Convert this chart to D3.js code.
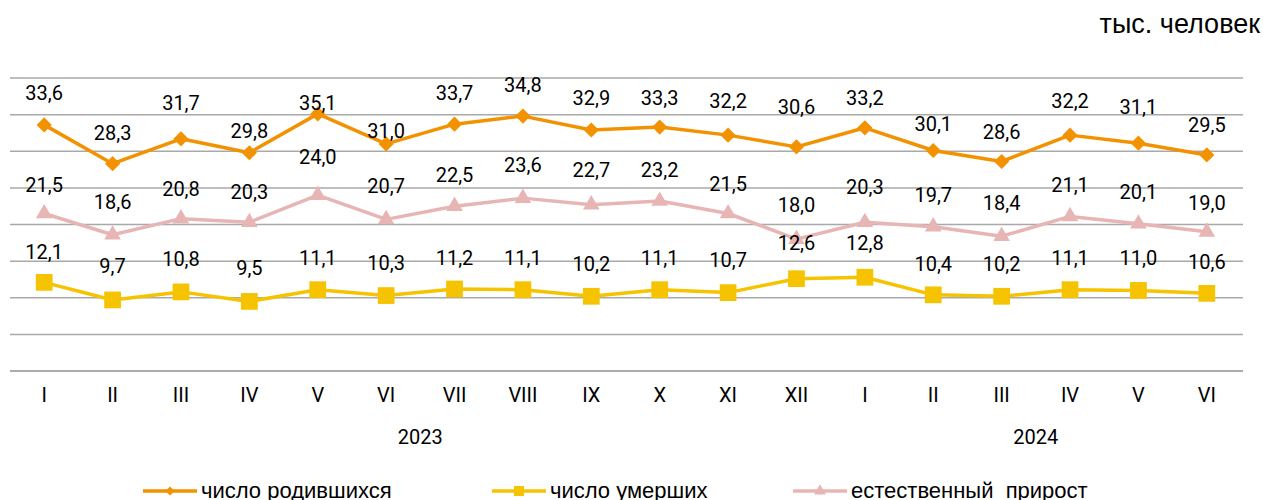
<!DOCTYPE html>
<html><head><meta charset="utf-8">
<script src="https://cdn.jsdelivr.net/npm/d3@7"></script>
<style>body{margin:0;background:#fff}svg{display:block}</style>
</head><body>
<svg id="c" width="1263" height="500"></svg>
<script>
const months = ["I","II","III","IV","V","VI","VII","VIII","IX","X","XI","XII","I","II","III","IV","V","VI"];
const years = ["2023","2024"];
const yearSpan = [[0,11],[12,17]];
const births = [33.6,28.3,31.7,29.8,35.1,31.0,33.7,34.8,32.9,33.3,32.2,30.6,33.2,30.1,28.6,32.2,31.1,29.5];
const deaths = [12.1,9.7,10.8,9.5,11.1,10.3,11.2,11.1,10.2,11.1,10.7,12.6,12.8,10.4,10.2,11.1,11.0,10.6];
const natural = [21.5,18.6,20.8,20.3,24.0,20.7,22.5,23.6,22.7,23.2,21.5,18.0,20.3,19.7,18.4,21.1,20.1,19.0];
const seriesNames = ["число родившихся","число умерших","естественный  прирост"];
const unitLabel = "тыс. человек";
const yTicks = [0,5,10,15,20,25,30,35,40];

// label lift (px above point) — styling only
const birthsLift = [32,31,36,22,11,13,31,31,32,29,34,40,30,27,30,34,36,30];
const naturalLift = [29,33,30,30,38,33,31,33,35,31,30,34,35,32,33,31,32,29];
const deathsLift = [30,34,33,33,32,33,31,32,32,32,33,36,34,31,32,32,32,31];

const svg = d3.select("#c");
const x = d3.scaleBand().domain(d3.range(months.length)).range([10,1241]);
const y = d3.scaleLinear().domain([0,40]).range([371,78]);
const cx = i => x(i) + x.bandwidth()/2;

svg.append("g").selectAll("line").data(yTicks).join("line")
  .attr("x1",10).attr("x2",1243)
  .attr("y1",d=>y(d)).attr("y2",d=>y(d))
  .attr("stroke",d=>d===0?"#8f8f8f":"#a9a9a9").attr("stroke-width",1.5);

const fontNum = "Roboto, sans-serif";
svg.append("g").selectAll("text").data(months).join("text")
  .attr("x",(d,i)=>cx(i)).attr("y",402).attr("text-anchor","middle")
  .attr("font-family",fontNum).attr("font-size",20).attr("fill","#000").text(d=>d);
svg.append("g").selectAll("text").data(years).join("text")
  .attr("x",(d,i)=>(cx(yearSpan[i][0])+cx(yearSpan[i][1]))/2).attr("y",444).attr("text-anchor","middle")
  .attr("font-family",fontNum).attr("font-size",20).attr("fill","#000").text(d=>d);

svg.append("text").attr("x",1260).attr("y",33).attr("text-anchor","end")
  .attr("font-family","'Liberation Sans', Arial, sans-serif").attr("font-size",27).attr("fill","#000").text(unitLabel);

const series = [
  {vals:births, color:"#F39200", w:3.5, shape:d3.symbolSquare, rot:45, size:115, lift:birthsLift, lsize:42},
  {vals:deaths, color:"#F6C300", w:3.5, shape:d3.symbolSquare, rot:0, size:280, lift:deathsLift, lsize:100},
  {vals:natural, color:"#E8B5B5", w:3.5, shape:d3.symbolTriangle, rot:0, size:120, lift:naturalLift, lsize:60}
];
const line = d3.line().x((d,i)=>cx(i)).y(d=>y(d));
const order = [2,1,0];
order.forEach(k=>{
  const s = series[k];
  const g = svg.append("g");
  g.append("path").attr("d",line(s.vals)).attr("fill","none").attr("stroke",s.color).attr("stroke-width",s.w).attr("stroke-linejoin","round");
  g.selectAll("path.m").data(s.vals).join("path").attr("class","m")
    .attr("d",d3.symbol().type(s.shape).size(s.size))
    .attr("transform",(d,i)=>`translate(${cx(i)},${y(d)}) rotate(${s.rot})`).attr("fill",s.color);
});
order.forEach(k=>{
  const s = series[k];
  svg.append("g").selectAll("text").data(s.vals).join("text")
    .attr("x",(d,i)=>cx(i)).attr("y",(d,i)=>y(d)-s.lift[i]).attr("dy","0.35em")
    .attr("text-anchor","middle").attr("font-family",fontNum).attr("font-size",20).attr("fill","#000")
    .text(d=>d.toFixed(1).replace(".",","));
});

// legend
const legX = [143,492,793];
const leg = svg.append("g");
series.forEach((s,k)=>{
  const lx = legX[k];
  leg.append("line").attr("x1",lx).attr("x2",lx+54).attr("y1",491).attr("y2",491).attr("stroke",s.color).attr("stroke-width",3.5);
  leg.append("path").attr("d",d3.symbol().type(s.shape).size(s.lsize)).attr("transform",`translate(${lx+27},491) rotate(${s.rot})`).attr("fill",s.color);
  leg.append("text").attr("x",lx+58).attr("y",498).attr("font-family","'Liberation Sans', Arial, sans-serif").attr("font-size",22).attr("fill","#000")
    .style("white-space","pre").attr("xml:space","preserve").text(seriesNames[k]);
});
</script>
</body></html>
